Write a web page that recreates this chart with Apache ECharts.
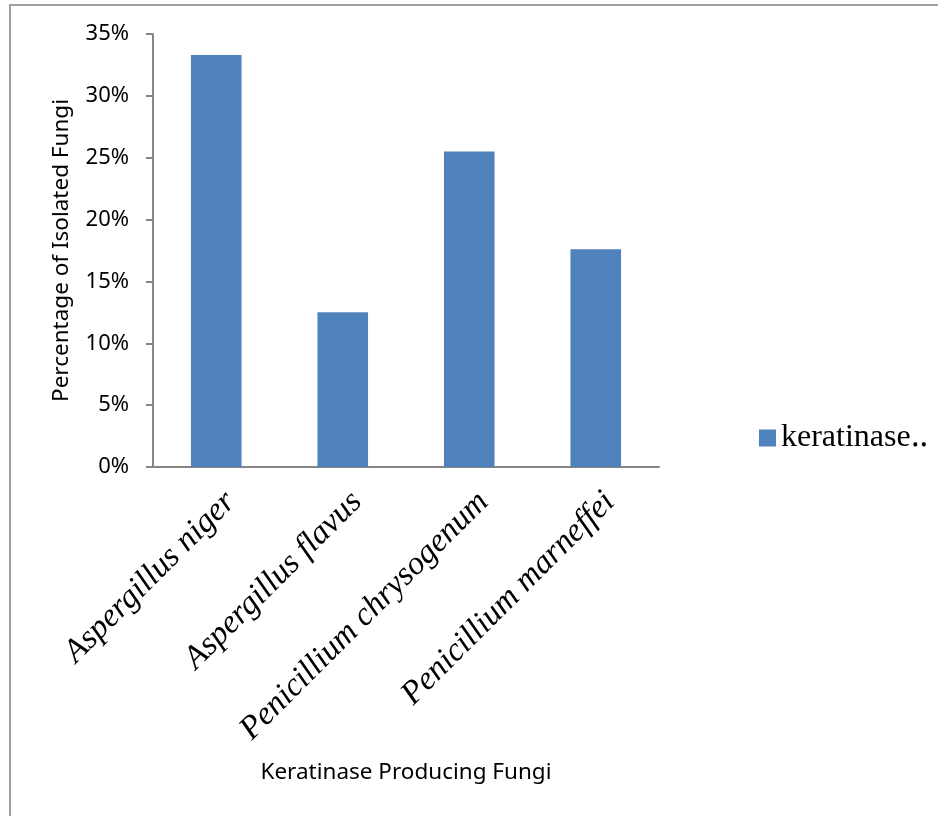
<!DOCTYPE html>
<html>
<head>
<meta charset="utf-8">
<script src="https://cdn.jsdelivr.net/npm/echarts@6/dist/echarts.min.js"></script>
<style>
html, body { margin: 0; padding: 0; background: #fff; }
#main { width: 938px; height: 816px; }
</style>
</head>
<body>
<div id="main"></div>
<script>
// fungi isolated that produce keratinase
const fungi = ['Aspergillus niger', 'Aspergillus flavus', 'Penicillium chrysogenum', 'Penicillium marneffei'];
const percent = [0.333, 0.125, 0.255, 0.176];
const seriesName = 'keratinase\u2025';

const serif = "'Liberation Serif', 'Times New Roman', serif";
const sans = "'Noto Sans', sans-serif";

const chart = echarts.init(document.getElementById('main'));

const option = {
    animation: false,
    backgroundColor: '#fff',
    graphic: [
        {
            // outer chart border (only left and top show in the picture)
            type: 'polyline',
            shape: { points: [[10, 830], [10, 5], [950, 5]] },
            style: { stroke: '#a0a0a0', lineWidth: 2, fill: null }
        }
    ],
    grid: { left: 153, right: 279, top: 34, bottom: 349 },
    legend: {
        left: 759,
        top: 422,
        padding: 0,
        itemWidth: 17,
        itemHeight: 17,
        icon: 'rect',
        textStyle: { fontFamily: serif, fontSize: 32, color: '#000' },
        data: [seriesName]
    },
    xAxis: {
        type: 'category',
        data: fungi,
        name: 'Keratinase Producing Fungi',
        nameLocation: 'middle',
        nameGap: 294,
        nameTextStyle: { fontFamily: sans, fontSize: 22.5, color: '#000' },
        axisLine: { lineStyle: { color: '#868686', width: 2 } },
        axisTick: { length: 7, lineStyle: { color: '#868686', width: 2 } },
        axisLabel: {
            rotate: 45,
            interval: 0,
            margin: 16,
            lineHeight: 40,
            // empty first line pushes the name off the tick like Excel does
            formatter: function (v) { return '\n' + v; },
            fontFamily: serif,
            fontStyle: 'italic',
            fontSize: 33,
            color: '#000'
        }
    },
    yAxis: {
        type: 'value',
        min: 0,
        max: 0.35,
        interval: 0.05,
        name: 'Percentage of Isolated Fungi',
        nameLocation: 'middle',
        nameGap: 80,
        nameTextStyle: { fontFamily: sans, fontSize: 22.5, color: '#000' },
        splitLine: { show: false },
        axisLine: { show: true, lineStyle: { color: '#868686', width: 2 } },
        axisTick: { show: true, length: 7, lineStyle: { color: '#868686', width: 2 } },
        axisLabel: {
            margin: 24,
            fontFamily: sans,
            fontSize: 22,
            color: '#000',
            formatter: function (v) { return Math.round(v * 100) + '%'; }
        }
    },
    series: [
        {
            name: seriesName,
            type: 'bar',
            data: percent,
            barWidth: '40%',
            itemStyle: { color: '#4F81BD' }
        }
    ]
};

chart.setOption(option);
</script>
</body>
</html>
